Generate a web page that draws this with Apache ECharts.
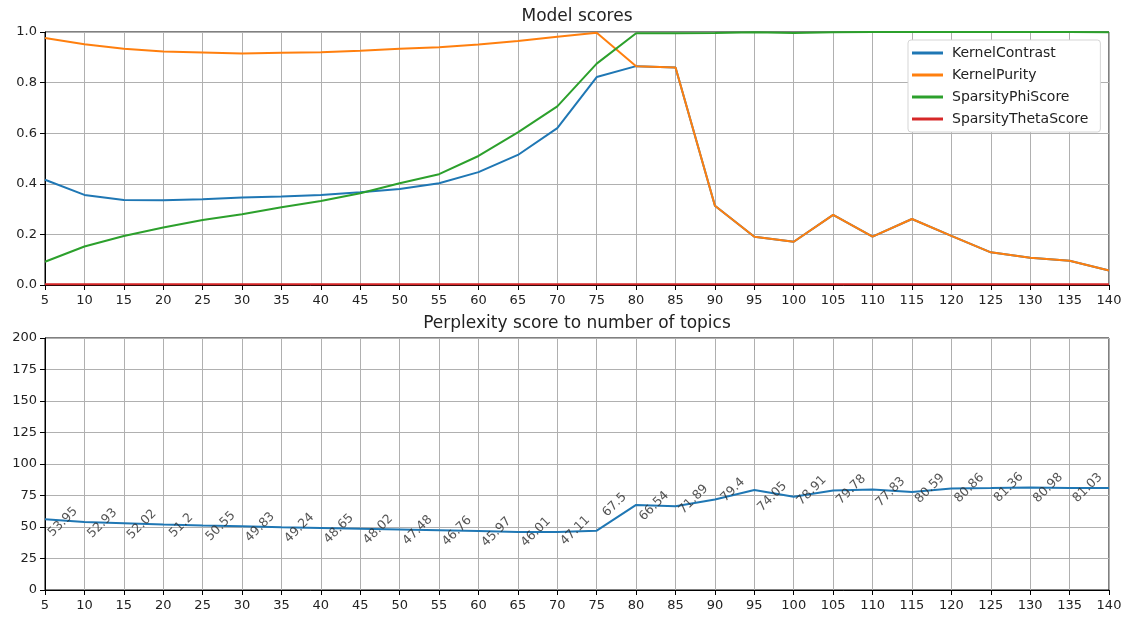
<!DOCTYPE html>
<html>
<head>
<meta charset="utf-8">
<script src="https://cdn.jsdelivr.net/npm/echarts@6/dist/echarts.min.js"></script>
<style>
  html, body { margin: 0; padding: 0; background: #fff; }
  #chart { width: 1126px; height: 617px; }
</style>
</head>
<body>
<div id="chart"></div>
<script>
const topics = [5, 10, 15, 20, 25, 30, 35, 40, 45, 50, 55, 60, 65, 70, 75, 80, 85, 90, 95, 100, 105, 110, 115, 120, 125, 130, 135, 140];

const kernelContrast = [0.416, 0.356, 0.336, 0.335, 0.339, 0.346, 0.350, 0.356, 0.367, 0.379, 0.402, 0.446, 0.514, 0.620, 0.822, 0.865, 0.860, 0.313, 0.191, 0.171, 0.277, 0.191, 0.261, 0.194, 0.129, 0.108, 0.096, 0.057];
const kernelPurity = [0.976, 0.952, 0.934, 0.923, 0.919, 0.915, 0.918, 0.920, 0.926, 0.934, 0.940, 0.951, 0.964, 0.981, 0.997, 0.865, 0.860, 0.313, 0.191, 0.171, 0.277, 0.191, 0.261, 0.194, 0.129, 0.108, 0.096, 0.057];
const sparsityPhi = [0.092, 0.152, 0.194, 0.227, 0.257, 0.280, 0.307, 0.332, 0.363, 0.402, 0.438, 0.510, 0.603, 0.706, 0.875, 0.995, 0.995, 0.996, 0.999, 0.996, 0.999, 1.0, 1.0, 1.0, 1.0, 1.0, 1.0, 0.999];
const sparsityTheta = [0.003, 0.003, 0.003, 0.003, 0.003, 0.003, 0.003, 0.003, 0.003, 0.003, 0.003, 0.003, 0.003, 0.003, 0.003, 0.003, 0.003, 0.003, 0.003, 0.003, 0.003, 0.003, 0.003, 0.003, 0.003, 0.003, 0.003, 0.003];

const perplexity = [56.1, 53.95, 52.93, 52.02, 51.2, 50.55, 49.83, 49.24, 48.65, 48.02, 47.48, 46.76, 45.97, 46.01, 47.11, 67.5, 66.54, 71.89, 79.4, 74.05, 78.91, 79.78, 77.83, 80.59, 80.86, 81.36, 80.98, 81.03];

const seriesNames = ['KernelContrast', 'KernelPurity', 'SparsityPhiScore', 'SparsityThetaScore'];
const colors = ['#1f77b4', '#ff7f0e', '#2ca02c', '#d62728'];
const topValues = [kernelContrast, kernelPurity, sparsityPhi, sparsityTheta];

const FONT = 'DejaVu Sans';
const TXT = '#222';

function pairs(xs, ys) { return xs.map((x, i) => [x, ys[i]]); }

// annotation points: label text of the next value placed at the current x
const annot = topics.slice(0, topics.length - 1).map((x, i) => [x, perplexity[i + 1]]);

function xAxisCfg(gi) {
  return {
    type: 'value', gridIndex: gi, min: 5, max: 140, interval: 5,
    axisLine: { show: true, onZero: false, lineStyle: { color: '#000', width: 1 } },
    axisTick: { show: true, length: 5, lineStyle: { color: '#000', width: 1 } },
    axisLabel: { color: TXT, fontFamily: FONT, fontSize: 13, margin: 9 },
    splitLine: { show: true, lineStyle: { color: '#b0b0b0', width: 1 } }
  };
}
function yAxisCfg(gi, max, interval, fmt) {
  return {
    type: 'value', gridIndex: gi, min: 0, max: max, interval: interval,
    axisLine: { show: true, lineStyle: { color: '#000', width: 1 } },
    axisTick: { show: true, length: 5, lineStyle: { color: '#000', width: 1 } },
    axisLabel: { color: TXT, fontFamily: FONT, fontSize: 13, margin: 8, formatter: fmt },
    splitLine: { show: true, lineStyle: { color: '#b0b0b0', width: 1 } }
  };
}

const series = topValues.map((vals, i) => ({
  name: seriesNames[i], type: 'line', xAxisIndex: 0, yAxisIndex: 0,
  data: pairs(topics, vals), showSymbol: false, symbol: 'none',
  lineStyle: { color: colors[i], width: 2 }, itemStyle: { color: colors[i] },
  z: 3 + i, animation: false
}));

series.push({
  name: 'Perplexity', type: 'line', xAxisIndex: 1, yAxisIndex: 1,
  data: pairs(topics, perplexity), showSymbol: false, symbol: 'none',
  lineStyle: { color: '#1f77b4', width: 2 }, itemStyle: { color: '#1f77b4' },
  animation: false
});

series.push({
  name: 'annotations', type: 'scatter', xAxisIndex: 1, yAxisIndex: 1,
  data: annot, symbolSize: 1, itemStyle: { color: 'rgba(0,0,0,0)' }, silent: true,
  label: {
    show: true, position: 'inside', rotate: 45, align: 'center', verticalAlign: 'middle',
    offset: [12.7, 12.7], color: '#2a2a2a', fontFamily: FONT, fontSize: 12.5,
    formatter: p => String(p.value[1])
  },
  animation: false, z: 5
});

const chart = echarts.init(document.getElementById('chart'), null, { renderer: 'canvas' });
chart.setOption({
  backgroundColor: '#fff',
  animation: false,
  title: [
    { text: 'Model scores', left: 577, top: 8, padding: 0, textAlign: 'center',
      textStyle: { fontFamily: FONT, fontSize: 17, fontWeight: 'normal', color: TXT } },
    { text: 'Perplexity score to number of topics', left: 577, top: 315, padding: 0, textAlign: 'center',
      textStyle: { fontFamily: FONT, fontSize: 17, fontWeight: 'normal', color: TXT } }
  ],
  legend: {
    data: seriesNames, orient: 'vertical', left: 908, top: 40,
    icon: 'rect', itemWidth: 31, itemHeight: 3, itemGap: 8,
    padding: [6, 12, 6, 4],
    backgroundColor: '#fff', borderColor: '#d5d5d5', borderWidth: 1, borderRadius: 3,
    textStyle: { fontFamily: FONT, fontSize: 14, color: TXT, padding: [0, 0, 0, 4] }
  },
  grid: [
    { left: 45, right: 17, top: 32, height: 253, show: true, borderColor: '#000', borderWidth: 1, containLabel: false },
    { left: 45, right: 17, top: 338, height: 252, show: true, borderColor: '#000', borderWidth: 1, containLabel: false }
  ],
  xAxis: [xAxisCfg(0), xAxisCfg(1)],
  yAxis: [
    yAxisCfg(0, 1, 0.2, v => v.toFixed(1)),
    yAxisCfg(1, 200, 25, v => String(v))
  ],
  series: series
});
</script>
</body>
</html>
